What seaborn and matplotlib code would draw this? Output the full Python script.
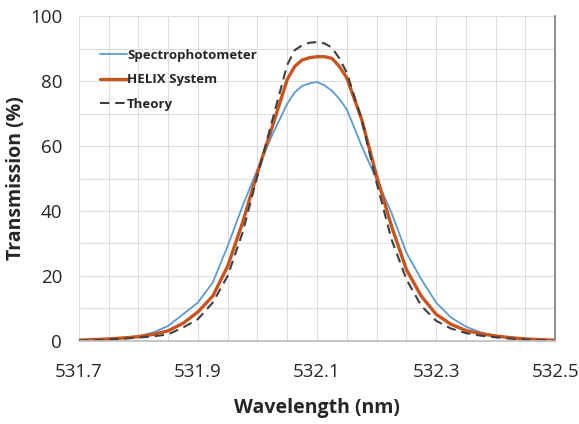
import numpy as np
import pandas as pd
import matplotlib
matplotlib.use("Agg")
import matplotlib.pyplot as plt
import seaborn as sns
from matplotlib.ticker import MultipleLocator

# Data
wavelength = [531.7, 531.725, 531.75, 531.775, 531.8, 531.825, 531.85, 531.875, 531.9,
              531.925, 531.95, 531.975, 532.0, 532.025, 532.05, 532.0625, 532.075, 532.0875,
              532.1, 532.1125, 532.125, 532.1375, 532.15, 532.175, 532.2, 532.225, 532.25,
              532.275, 532.3, 532.325, 532.35, 532.375, 532.4, 532.425, 532.45, 532.475, 532.5]
spectro = [0.2, 0.4, 0.6, 0.9, 1.4, 2.6, 4.6, 8.2, 11.8,
           18.0, 29.2, 41.5, 52.8, 63.5, 73.0, 76.5, 78.5, 79.3,
           79.7, 78.7, 77.0, 74.5, 71.3, 60.0, 49.7, 39.5, 27.2,
           19.0, 11.8, 7.2, 4.4, 2.6, 1.6, 1.0, 0.7, 0.4, 0.2]
helix = [0.2, 0.4, 0.6, 0.9, 1.3, 2.0, 3.1, 5.4, 8.9,
         13.8, 23.0, 36.4, 51.8, 66.0, 80.5, 84.5, 86.5, 87.2,
         87.5, 87.5, 87.0, 84.5, 81.0, 68.2, 50.8, 35.4, 22.0,
         13.8, 8.2, 5.1, 3.2, 2.2, 1.5, 1.0, 0.6, 0.4, 0.2]
theory = [0.1, 0.2, 0.4, 0.7, 1.0, 1.4, 2.0, 4.1, 6.7,
          11.8, 20.0, 33.3, 50.8, 68.0, 85.0, 89.5, 91.0, 91.8,
          92.0, 91.6, 90.3, 87.0, 82.6, 68.2, 48.7, 31.3, 19.0,
          10.8, 6.2, 3.8, 2.4, 1.6, 1.1, 0.7, 0.4, 0.2, 0.1]

series_names = ["Spectrophotometer", "HELIX System", "Theory"]
x_ticks = [531.7, 531.9, 532.1, 532.3, 532.5]

n = len(wavelength)
df = pd.DataFrame({
    "Wavelength": wavelength * 3,
    "Transmission": spectro + helix + theory,
    "Series": [series_names[0]] * n + [series_names[1]] * n + [series_names[2]] * n,
})

sns.set_theme(style="white")
plt.rcParams['font.family'] = ['Open Sans', 'DejaVu Sans']

fig = plt.figure(figsize=(5.79, 4.24), dpi=100)
ax = fig.add_axes([0.136, 0.196, 0.823, 0.766])

palette = {series_names[0]: "#5b9bd5", series_names[1]: "#c9541e", series_names[2]: "#404040"}
sns.lineplot(data=df, x="Wavelength", y="Transmission", hue="Series", style="Series",
             palette=palette, dashes={series_names[0]: "", series_names[1]: "",
                                      series_names[2]: (4.5, 2.8)},
             size="Series", sizes={series_names[0]: 1.3, series_names[1]: 2.4,
                                   series_names[2]: 1.5},
             ax=ax, legend=True)

ax.set_xlim(531.7, 532.5)
ax.set_ylim(0, 100)
ax.set_xticks(x_ticks)
ax.set_xticklabels([f"{v:.1f}" for v in x_ticks])
ax.xaxis.set_minor_locator(MultipleLocator(0.05))
ax.yaxis.set_major_locator(MultipleLocator(20))
ax.yaxis.set_minor_locator(MultipleLocator(10))
ax.grid(which="both", color="#dedede", linewidth=0.8)
ax.set_axisbelow(True)
ax.tick_params(axis="x", which="major", labelsize=13.5, length=0, pad=16)
ax.tick_params(axis="y", which="major", labelsize=13.5, length=0, pad=12)
ax.tick_params(axis="both", which="minor", length=0)

for s in ["top", "left"]:
    ax.spines[s].set_visible(False)
ax.spines["bottom"].set_color("#bfbfbf")
ax.spines["right"].set_color("#808080")

ax.set_xlabel("Wavelength (nm)", fontsize=14, fontweight="bold", labelpad=12)
ax.set_ylabel("Transmission (%)", fontsize=14, fontweight="bold", labelpad=3)

handles, labels = ax.get_legend_handles_labels()
ax.legend(handles, labels, loc="upper left", bbox_to_anchor=(0.02, 0.935), frameon=False,
          prop={"weight": "bold", "size": 9.5}, handlelength=2.0, handletextpad=0.05,
          labelspacing=0.85)

fig.savefig("out.png", dpi=100)
